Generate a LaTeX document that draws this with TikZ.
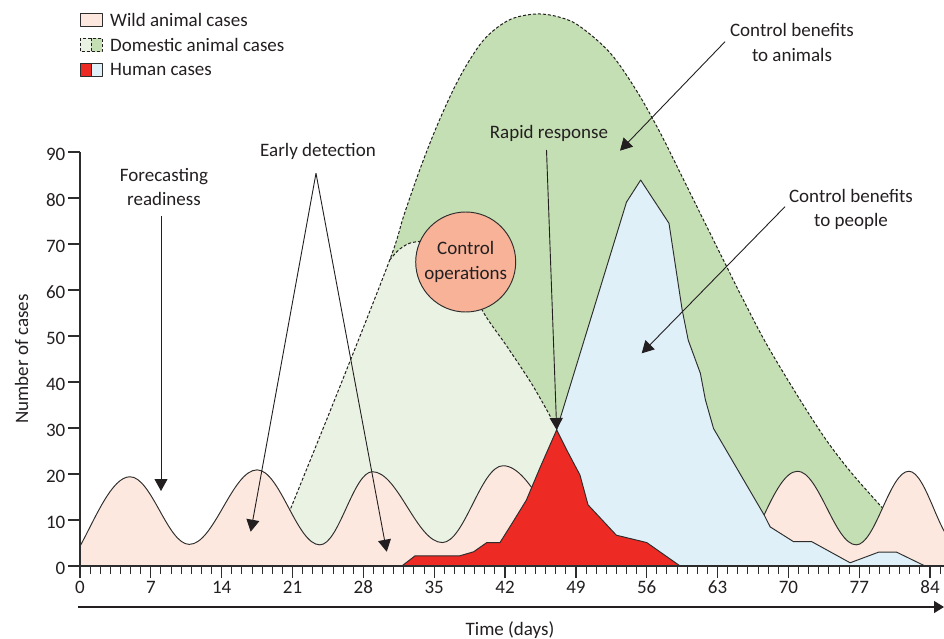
\documentclass[tikz,border=0pt]{standalone}
\usepackage{fontspec}
\setmainfont{Carlito}
\usetikzlibrary{arrows.meta}
\definecolor{wildc}{RGB}{252,232,222}
\definecolor{domlight}{RGB}{234,243,227}
\definecolor{domdark}{RGB}{197,223,180}
\definecolor{humblue}{RGB}{223,240,248}
\definecolor{humred}{RGB}{237,42,36}
\definecolor{ctrlc}{RGB}{247,178,152}
\definecolor{ink}{RGB}{35,31,32}
\definecolor{edgec}{RGB}{45,45,45}
\begin{document}
\begin{tikzpicture}[x=1pt,y=-1pt,
  txt/.style={font=\fontsize{19pt}{24.5pt}\selectfont, text=ink, inner sep=0pt},
  outline/.style={draw=edgec, line width=0.95pt, line join=round},
  dashline/.style={draw=ink, line width=1pt, dash pattern=on 3pt off 2pt},
  arr/.style={draw=ink, line width=0.9pt, -{Triangle[length=12pt,width=13pt]}},
  axisline/.style={draw=edgec, line width=1.3pt},
]
\useasboundingbox (0,0) rectangle (944,639);

\begin{scope}[shift={(80,566)}, x=10.12pt, y=4.6pt]
  % domestic animal cases without control (dark green)
  \fill[domdark] (20.45,0) -- plot[smooth, tension=0.55] coordinates {(20.45,10.5) (25.5,38) (30.6,66.5) (32.0,76.2) (33.6,86.3) (35.2,95.3) (36.9,103.6) (38.5,110.0) (40.2,115.1) (42.5,118.8) (45.1,120.0) (47.4,119.3) (49.4,117.3) (52.4,111.5) (55.0,103.3) (57.3,94.3) (59.3,85.5) (61.3,76.6) (63.6,66.4) (65.6,57.6) (67.9,48.0) (71.1,36.3) (73.8,27.2) (76.4,19.8) (79.8,11.4)} -- (79.8,0) -- cycle;
  % domestic animal cases with control (light green)
  \fill[domlight] (20.45,0) -- plot[smooth, tension=0.55] coordinates {(20.45,10.5) (25.5,38) (30.6,66.5)} -- plot[smooth, tension=0.55] coordinates {(30.6,66.5) (31.6,68.9) (33.0,70.4) (35.5,70.0) (38.0,63.5) (39.9,55.0) (42.2,47.7) (44.8,39.0) (47.1,30.0)} -- (47.1,0) -- cycle;
  \draw[dashline] plot[smooth, tension=0.55] coordinates {(20.45,10.5) (25.5,38) (30.6,66.5) (32.0,76.2) (33.6,86.3) (35.2,95.3) (36.9,103.6) (38.5,110.0) (40.2,115.1) (42.5,118.8) (45.1,120.0) (47.4,119.3) (49.4,117.3) (52.4,111.5) (55.0,103.3) (57.3,94.3) (59.3,85.5) (61.3,76.6) (63.6,66.4) (65.6,57.6) (67.9,48.0) (71.1,36.3) (73.8,27.2) (76.4,19.8) (79.8,11.4)};
  \draw[dashline] plot[smooth, tension=0.55] coordinates {(30.6,66.5) (31.6,68.9) (33.0,70.4) (35.5,70.0) (38.0,63.5) (39.9,55.0) (42.2,47.7) (44.8,39.0) (47.1,30.0)};
  % wild animal cases
  \draw[outline, fill=wildc] (0,0) -- (0,4.3) .. controls (1.5,10.3) and (3.14,19.4) .. (4.94,19.4)
    .. controls (7.07,19.4) and (8.67,4.7) .. (10.8,4.7)
    .. controls (13.24,4.7) and (15.06,20.9) .. (17.5,20.9)
    .. controls (19.76,20.9) and (21.44,4.6) .. (23.7,4.6)
    .. controls (25.59,4.6) and (27.01,20.5) .. (28.9,20.5)
    .. controls (31.41,20.5) and (33.29,5.1) .. (35.8,5.1)
    .. controls (37.98,5.1) and (39.62,21.8) .. (41.8,21.8)
    .. controls (44.78,21.8) and (47.02,4) .. (50,4) -- (50,0) -- cycle;
  \draw[outline, fill=wildc] (67.6,0) -- (67.6,11.1) .. controls (68.6,15.8) and (69.7,20.6) .. (70.9,20.6)
    .. controls (73.01,20.6) and (74.59,4.6) .. (76.7,4.6)
    .. controls (78.59,4.6) and (80.01,20.6) .. (81.9,20.6)
    .. controls (83.68,20.6) and (85.02,4.5) .. (86.8,4.5) -- (87,0) -- cycle;
  % human cases without control (blue)
  \draw[outline, fill=humblue] (47.1,29.6) -- (54.0,79.1) -- (55.4,83.9) -- (58.2,74.5) -- (59.5,55.7) -- (60.1,49.1) -- (61.3,41.9) -- (61.8,36.1) -- (62.6,29.9) -- (67.6,11.1) -- (68.2,8.5) -- (70.5,5.3) -- (72.3,5.3) -- (76.1,0.7) -- (78.9,3.0) -- (80.7,3.0) -- (83.5,0) -- (52,0) -- (48,5) -- cycle;
  % human cases with control (red)
  \draw[outline, fill=humred] (31.8,0) -- (33.1,2.2) -- (37.5,2.2) -- (38.9,3.1) -- (40.2,5.1) -- (41.5,5.1) -- (42.7,9.3) -- (44.1,14.3) -- (45.5,21.6) -- (47.1,29.6) -- (48.1,25.2) -- (49.4,19.8) -- (50.2,13.3) -- (53.0,6.7) -- (56.0,5.1) -- (59.3,0) -- cycle;
  % axes
  \draw[axisline] (0,90) -- (0,0) -- (85.5,0);
  \foreach \v in {0,10,...,90} {
    \draw[axisline] (0,\v) -- ++(-12pt,0pt);
    \node[txt, anchor=east] (yl\v) at (0,\v) [xshift=-14.5pt, yshift=-2pt] {\v};
  }
  \foreach \d in {0,...,85} { \draw[edgec, line width=1pt] (\d,0) -- ++(0pt,-7.5pt); }
  \foreach \d in {0,7,...,84} {
    \draw[edgec, line width=1.3pt] (\d,0) -- ++(0pt,-11.5pt);
    \node[txt, anchor=base] (xl\d) at (\d,0) [yshift=-27.5pt] {\d};
  }
\end{scope}

% control operations
\node[circle, draw=edgec, line width=0.95pt, fill=ctrlc, minimum size=100pt, inner sep=0pt, align=center, txt] (ctrl) at (465.7,262) {Control\\operations};

% legend
\draw[outline, fill=wildc] (80,13.5) rectangle (102,26.5);
\fill[domlight] (80,38.5) rectangle (91,52);
\fill[domdark] (91,38.5) rectangle (102,52);
\draw[dashline] (80,38.5) rectangle (102,52);
\draw[dashline] (91,38.5) -- (91,52);
\fill[humred] (80,63.5) rectangle (91,76.5);
\fill[humblue] (91,63.5) rectangle (102,76.5);
\draw[outline] (80,63.5) rectangle (102,76.5);
\draw[outline] (91,63.5) -- (91,76.5);
\node[txt, anchor=base west] (lgwild) at (110,26.5) {Wild animal cases};
\node[txt, anchor=base west] (lgdom) at (110,51.5) {Domestic animal cases};
\node[txt, anchor=base west] (lghum) at (110,76) {Human cases};

% annotations
\node[txt, align=center] (fore) at (164,187) {Forecasting\\readiness};
\node[txt, anchor=base] (early) at (318,156.5) {Early detection};
\node[txt, anchor=base] (rapid) at (549,138.5) {Rapid response};
\node[txt, align=center] (cba) at (792,42.5) {Control benefits\\to animals};
\node[txt, align=center] (cbp) at (851,209.5) {Control benefits\\to people};

\coordinate (foreS) at (161,216);
\coordinate (foreE) at (161,491);
\coordinate (earlyS) at (316,173.3);
\coordinate (earlyA) at (250.7,531.7);
\coordinate (earlyB) at (386.7,551.7);
\coordinate (rapidS) at (546.5,150);
\coordinate (rapidE) at (556.7,430);
\coordinate (cbaS) at (725,41.7);
\coordinate (cbaE) at (620,150.7);
\coordinate (cbpS) at (785,206.7);
\coordinate (cbpE) at (641.7,353.3);

\draw[arr] (foreS) -- (foreE);
\draw[arr] (earlyS) -- (earlyA);
\draw[arr] (earlyS) -- (earlyB);
\draw[arr] (rapidS) -- (rapidE);
\draw[arr] (cbaS) -- (cbaE);
\draw[arr] (cbpS) -- (cbpE);

% axis titles
\node[txt, rotate=90, anchor=base] (ylab) at (28,359) {Number of cases};
\coordinate (taS) at (78,607);
\coordinate (taE) at (944,607);
\draw[draw=ink, line width=1.3pt, -{Triangle[length=10pt,width=12pt]}] (taS) -- (taE);
\node[txt, anchor=base] (tlab) at (510,635) {Time (days)};
\end{tikzpicture}
\end{document}
